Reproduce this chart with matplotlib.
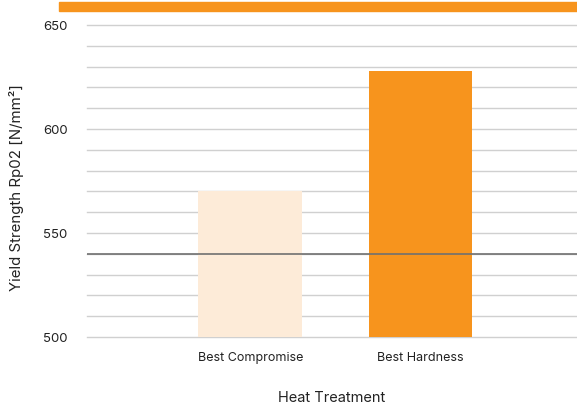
import matplotlib
matplotlib.use("Agg")
import matplotlib.pyplot as plt
from matplotlib.patches import Rectangle
import numpy as np

categories = ["Best Compromise", "Best Hardness"]
values = [570, 628]
bar_colors = ["#FDEBD8", "#F7941D"]
reference_value = 540
major_ticks = [500, 550, 600, 650]
minor_ticks = list(range(500, 660, 10))

plt.rcParams['font.family'] = ['Inter', 'DejaVu Sans']

fig = plt.figure(figsize=(5.77, 4.12), dpi=100)
ax = fig.add_axes([87/577, 1-337/412, (577-87)/577, 312/412])

x = np.arange(len(categories))
ax.set_xlim(-0.96, 1.92)
ax.set_ylim(500, 650)

for yv in minor_ticks:
    ax.axhline(yv, color="#d0d0d0", lw=1.0, zorder=0, clip_on=False)
ax.bar(x, values, width=0.61, color=bar_colors, zorder=2)
ax.axhline(reference_value, color="#707070", lw=1.2, zorder=3)

ax.set_yticks(major_ticks)
ax.set_yticklabels([str(t) for t in major_ticks], fontsize=9.5, color="#222222")
ax.set_xticks(x)
ax.set_xticklabels(categories, fontsize=9, color="#222222")
ax.tick_params(axis="both", length=0)
ax.tick_params(axis="x", pad=11)
ax.tick_params(axis="y", pad=14)
for s in ax.spines.values():
    s.set_visible(False)
ax.set_ylabel("Yield Strength Rp02 [N/mm²]", fontsize=10.8, color="#222222", labelpad=11)
ax.yaxis.set_label_coords(-0.128, 0.48)
ax.set_xlabel("Heat Treatment", fontsize=10.5, color="#222222", labelpad=19)
ax.set_facecolor("none")

fig.patches.append(Rectangle((59/577, 1-11/412), (577-59)/577, 9/412,
                             transform=fig.transFigure, color="#F7941D", zorder=5))

fig.savefig("out.png", dpi=100)
